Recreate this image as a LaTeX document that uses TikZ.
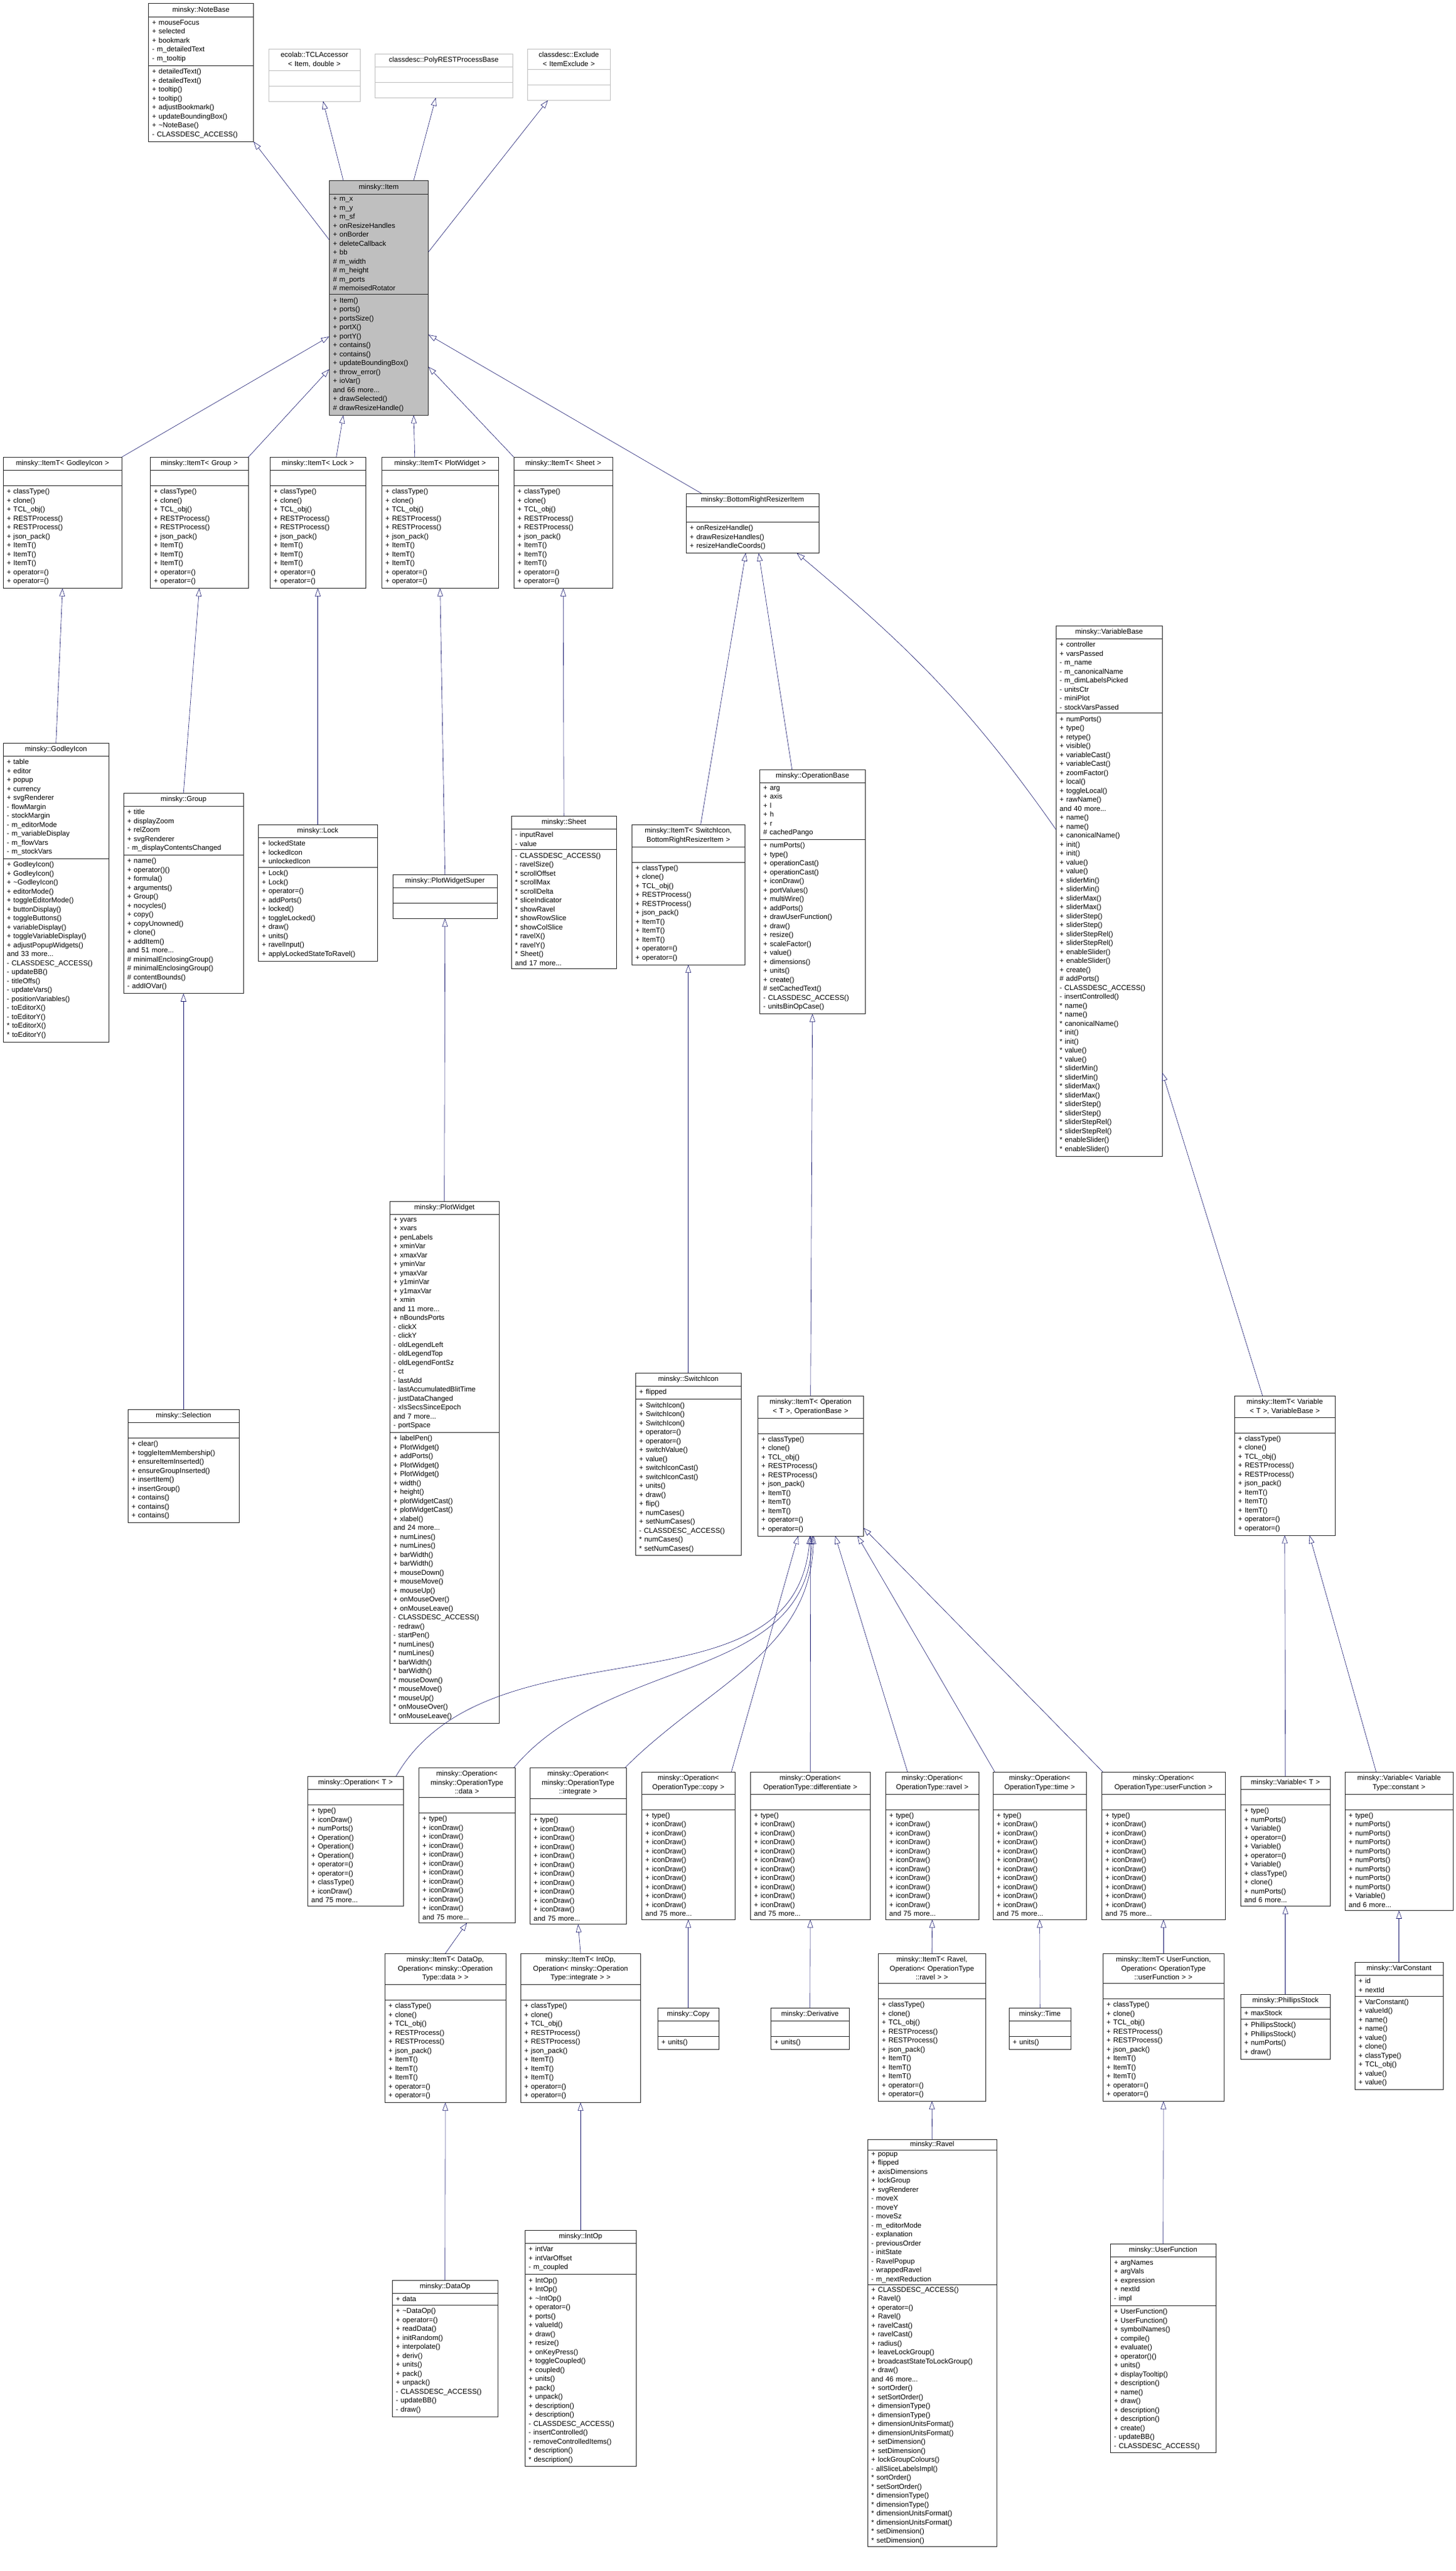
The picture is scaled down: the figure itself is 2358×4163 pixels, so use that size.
\documentclass[tikz,border=0pt]{standalone}
\usepackage{fontspec}
\setmainfont{Liberation Sans}
\usetikzlibrary{shapes.multipart,arrows.meta}
\definecolor{edgeblue}{HTML}{191970}
\newcommand{\ttl}[1]{\centering #1\par}
\newcommand{\itemTmethods}{+ classType()\\+ clone()\\+ TCL\_obj()\\+ RESTProcess()\\+ RESTProcess()\\+ json\_pack()\\+ ItemT()\\+ ItemT()\\+ ItemT()\\+ operator=()\\+ operator=()}
\newcommand{\iconDraws}{+ type()\\+ iconDraw()\\+ iconDraw()\\+ iconDraw()\\+ iconDraw()\\+ iconDraw()\\+ iconDraw()\\+ iconDraw()\\+ iconDraw()\\+ iconDraw()\\+ iconDraw()\\and 75 more...}

\begin{document}
\begin{tikzpicture}[x=1pt, y=-1pt,
		cls/.style={rectangle split, rectangle split parts=3, draw=black!85, fill=white,
			anchor=north west, align=left, inner xsep=6pt, inner ysep=5pt,
			font=\fontsize{11.5}{14.5}\selectfont},
		extcls/.style={cls, draw=black!25},
		inh/.style={draw=edgeblue, semithick, -{Triangle[open, length=13pt, width=9pt]}}]
		\useasboundingbox (0,0) rectangle (2358,4163);

		% top row
		\node[cls, thick, text width=158pt] (notebase) at (240,5) {\ttl{minsky::NoteBase}
			\nodepart{second}+ mouseFocus\\+ selected\\+ bookmark\\- m\_detailedText\\- m\_tooltip
			\nodepart{third}+ detailedText()\\+ detailedText()\\+ tooltip()\\+ tooltip()\\+ adjustBookmark()\\+ updateBoundingBox()\\+ \textasciitilde NoteBase()\\- CLASSDESC\_ACCESS()};
		\node[extcls, text width=136pt] (tclacc) at (435,79) {\ttl{ecolab::TCLAccessor\\< Item, double >}
			\nodepart{second}\strut \nodepart{third}\strut};
		\node[extcls, text width=211pt] (polyrest) at (607,87) {\ttl{classdesc::PolyRESTProcessBase}
			\nodepart{second}\strut \nodepart{third}\strut};
		\node[extcls, text width=122pt] (exclude) at (854,79) {\ttl{classdesc::Exclude\\< ItemExclude >}
			\nodepart{second}\strut \nodepart{third}\strut};
		\node[cls, thick, fill=black!25, text width=148pt] (item) at (533,292) {\ttl{minsky::Item}
			\nodepart{second}+ m\_x\\+ m\_y\\+ m\_sf\\+ onResizeHandles\\+ onBorder\\+ deleteCallback\\+ bb\\\# m\_width\\\# m\_height\\\# m\_ports\\\# memoisedRotator
			\nodepart{third}+ Item()\\+ ports()\\+ portsSize()\\+ portX()\\+ portY()\\+ contains()\\+ contains()\\+ updateBoundingBox()\\+ throw\_error()\\+ ioVar()\\and 66 more...\\+ drawSelected()\\\# drawResizeHandle()};

		% ItemT row
		\node[cls, text width=180pt] (itemTgodley) at (5,740) {\ttl{minsky::ItemT< GodleyIcon >}
			\nodepart{second}\strut \nodepart{third}\itemTmethods};
		\node[cls, text width=147pt] (itemTgroup) at (243,740) {\ttl{minsky::ItemT< Group >}
			\nodepart{second}\strut \nodepart{third}\itemTmethods};
		\node[cls, text width=143pt] (itemTlock) at (437,740) {\ttl{minsky::ItemT< Lock >}
			\nodepart{second}\strut \nodepart{third}\itemTmethods};
		\node[cls, text width=177pt] (itemTplot) at (618,740) {\ttl{minsky::ItemT< PlotWidget >}
			\nodepart{second}\strut \nodepart{third}\itemTmethods};
		\node[cls, text width=148pt] (itemTsheet) at (832,740) {\ttl{minsky::ItemT< Sheet >}
			\nodepart{second}\strut \nodepart{third}\itemTmethods};
		\node[cls, text width=203pt] (brr) at (1111,799) {\ttl{minsky::BottomRightResizerItem}
			\nodepart{second}\strut \nodepart{third}+ onResizeHandle()\\+ drawResizeHandles()\\+ resizeHandleCoords()};

		% concrete items
		\node[cls, text width=159pt] (godley) at (5,1203) {\ttl{minsky::GodleyIcon}
			\nodepart{second}+ table\\+ editor\\+ popup\\+ currency\\+ svgRenderer\\- flowMargin\\- stockMargin\\- m\_editorMode\\- m\_variableDisplay\\- m\_flowVars\\- m\_stockVars
			\nodepart{third}+ GodleyIcon()\\+ GodleyIcon()\\+ \textasciitilde GodleyIcon()\\+ editorMode()\\+ toggleEditorMode()\\+ buttonDisplay()\\+ toggleButtons()\\+ variableDisplay()\\+ toggleVariableDisplay()\\+ adjustPopupWidgets()\\and 33 more...\\- CLASSDESC\_ACCESS()\\- updateBB()\\- titleOffs()\\- updateVars()\\- positionVariables()\\- toEditorX()\\- toEditorY()\\{*} toEditorX()\\{*} toEditorY()};
		\node[cls, text width=182pt] (group) at (200,1284) {\ttl{minsky::Group}
			\nodepart{second}+ title\\+ displayZoom\\+ relZoom\\+ svgRenderer\\- m\_displayContentsChanged
			\nodepart{third}+ name()\\+ operator()()\\+ formula()\\+ arguments()\\+ Group()\\+ nocycles()\\+ copy()\\+ copyUnowned()\\+ clone()\\+ addItem()\\and 51 more...\\\# minimalEnclosingGroup()\\\# minimalEnclosingGroup()\\\# contentBounds()\\- addIOVar()};
		\node[cls, text width=181pt] (lock) at (418,1335) {\ttl{minsky::Lock}
			\nodepart{second}+ lockedState\\+ lockedIcon\\+ unlockedIcon
			\nodepart{third}+ Lock()\\+ Lock()\\+ operator=()\\+ addPorts()\\+ locked()\\+ toggleLocked()\\+ draw()\\+ units()\\+ ravelInput()\\+ applyLockedStateToRavel()};
		\node[cls, text width=157pt] (pwsuper) at (636,1416) {\ttl{minsky::PlotWidgetSuper}
			\nodepart{second}\strut \nodepart{third}\strut};
		\node[cls, text width=158pt] (sheet) at (828,1321) {\ttl{minsky::Sheet}
			\nodepart{second}- inputRavel\\- value
			\nodepart{third}- CLASSDESC\_ACCESS()\\- ravelSize()\\{*} scrollOffset\\{*} scrollMax\\{*} scrollDelta\\{*} sliceIndicator\\{*} showRavel\\{*} showRowSlice\\{*} showColSlice\\{*} ravelX()\\{*} ravelY()\\{*} Sheet()\\and 17 more...};
		\node[cls, text width=171pt] (itemTswitch) at (1023,1335) {\ttl{minsky::ItemT< SwitchIcon,\\BottomRightResizerItem >}
			\nodepart{second}\strut \nodepart{third}\itemTmethods};
		\node[cls, text width=159pt] (opbase) at (1230,1246) {\ttl{minsky::OperationBase}
			\nodepart{second}+ arg\\+ axis\\+ l\\+ h\\+ r\\\# cachedPango
			\nodepart{third}+ numPorts()\\+ type()\\+ operationCast()\\+ operationCast()\\+ iconDraw()\\+ portValues()\\+ multiWire()\\+ addPorts()\\+ drawUserFunction()\\+ draw()\\+ resize()\\+ scaleFactor()\\+ value()\\+ dimensions()\\+ units()\\+ create()\\\# setCachedText()\\- CLASSDESC\_ACCESS()\\- unitsBinOpCase()};
		\node[cls, text width=160pt] (varbase) at (1710,1013) {\ttl{minsky::VariableBase}
			\nodepart{second}+ controller\\+ varsPassed\\- m\_name\\- m\_canonicalName\\- m\_dimLabelsPicked\\- unitsCtr\\- miniPlot\\- stockVarsPassed
			\nodepart{third}+ numPorts()\\+ type()\\+ retype()\\+ visible()\\+ variableCast()\\+ variableCast()\\+ zoomFactor()\\+ local()\\+ toggleLocal()\\+ rawName()\\and 40 more...\\+ name()\\+ name()\\+ canonicalName()\\+ init()\\+ init()\\+ value()\\+ value()\\+ sliderMin()\\+ sliderMin()\\+ sliderMax()\\+ sliderMax()\\+ sliderStep()\\+ sliderStep()\\+ sliderStepRel()\\+ sliderStepRel()\\+ enableSlider()\\+ enableSlider()\\+ create()\\\# addPorts()\\- CLASSDESC\_ACCESS()\\- insertControlled()\\{*} name()\\{*} name()\\{*} canonicalName()\\{*} init()\\{*} init()\\{*} value()\\{*} value()\\{*} sliderMin()\\{*} sliderMin()\\{*} sliderMax()\\{*} sliderMax()\\{*} sliderStep()\\{*} sliderStep()\\{*} sliderStepRel()\\{*} sliderStepRel()\\{*} enableSlider()\\{*} enableSlider()};

		% middle
		\node[cls, text width=168pt] (selection) at (207,2282) {\ttl{minsky::Selection}
			\nodepart{second}\strut
			\nodepart{third}+ clear()\\+ toggleItemMembership()\\+ ensureItemInserted()\\+ ensureGroupInserted()\\+ insertItem()\\+ insertGroup()\\+ contains()\\+ contains()\\+ contains()};
		\node[cls, text width=165pt] (plotwidget) at (631,1945) {\ttl{minsky::PlotWidget}
			\nodepart{second}+ yvars\\+ xvars\\+ penLabels\\+ xminVar\\+ xmaxVar\\+ yminVar\\+ ymaxVar\\+ y1minVar\\+ y1maxVar\\+ xmin\\and 11 more...\\+ nBoundsPorts\\- clickX\\- clickY\\- oldLegendLeft\\- oldLegendTop\\- oldLegendFontSz\\- ct\\- lastAdd\\- lastAccumulatedBlitTime\\- justDataChanged\\- xIsSecsSinceEpoch\\and 7 more...\\- portSpace
			\nodepart{third}+ labelPen()\\+ PlotWidget()\\+ addPorts()\\+ PlotWidget()\\+ PlotWidget()\\+ width()\\+ height()\\+ plotWidgetCast()\\+ plotWidgetCast()\\+ xlabel()\\and 24 more...\\+ numLines()\\+ numLines()\\+ barWidth()\\+ barWidth()\\+ mouseDown()\\+ mouseMove()\\+ mouseUp()\\+ onMouseOver()\\+ onMouseLeave()\\- CLASSDESC\_ACCESS()\\- redraw()\\- startPen()\\{*} numLines()\\{*} numLines()\\{*} barWidth()\\{*} barWidth()\\{*} mouseDown()\\{*} mouseMove()\\{*} mouseUp()\\{*} onMouseOver()\\{*} onMouseLeave()};
		\node[cls, text width=159pt] (switchicon) at (1029,2223) {\ttl{minsky::SwitchIcon}
			\nodepart{second}+ flipped
			\nodepart{third}+ SwitchIcon()\\+ SwitchIcon()\\+ SwitchIcon()\\+ operator=()\\+ operator=()\\+ switchValue()\\+ value()\\+ switchIconCast()\\+ switchIconCast()\\+ units()\\+ draw()\\+ flip()\\+ numCases()\\+ setNumCases()\\- CLASSDESC\_ACCESS()\\{*} numCases()\\{*} setNumCases()};
		\node[cls, text width=159pt] (itemTop) at (1227,2260) {\ttl{minsky::ItemT< Operation\\< T >, OperationBase >}
			\nodepart{second}\strut \nodepart{third}\itemTmethods};
		\node[cls, text width=151pt] (itemTvar) at (1999,2260) {\ttl{minsky::ItemT< Variable\\< T >, VariableBase >}
			\nodepart{second}\strut \nodepart{third}\itemTmethods};

		% operations
		\node[cls, text width=143pt] (opT) at (498,2876) {\ttl{minsky::Operation< T >}
			\nodepart{second}\strut
			\nodepart{third}+ type()\\+ iconDraw()\\+ numPorts()\\+ Operation()\\+ Operation()\\+ Operation()\\+ operator=()\\+ operator=()\\+ classType()\\+ iconDraw()\\and 75 more...};
		\node[cls, text width=144pt] (opdata) at (678,2862) {\ttl{minsky::Operation<\\minsky::OperationType\\::data >}
			\nodepart{second}\strut \nodepart{third}\iconDraws};
		\node[cls, text width=144pt] (opint) at (858,2862) {\ttl{minsky::Operation<\\minsky::OperationType\\::integrate >}
			\nodepart{second}\strut \nodepart{third}\iconDraws};
		\node[cls, text width=139pt] (opcopy) at (1039,2869) {\ttl{minsky::Operation<\\OperationType::copy >}
			\nodepart{second}\strut \nodepart{third}\iconDraws};
		\node[cls, text width=182pt] (opdiff) at (1215,2869) {\ttl{minsky::Operation<\\OperationType::differentiate >}
			\nodepart{second}\strut \nodepart{third}\iconDraws};
		\node[cls, text width=139pt] (opravel) at (1434,2869) {\ttl{minsky::Operation<\\OperationType::ravel >}
			\nodepart{second}\strut \nodepart{third}\iconDraws};
		\node[cls, text width=139pt] (optime) at (1608,2869) {\ttl{minsky::Operation<\\OperationType::time >}
			\nodepart{second}\strut \nodepart{third}\iconDraws};
		\node[cls, text width=188pt] (opuf) at (1784,2869) {\ttl{minsky::Operation<\\OperationType::userFunction >}
			\nodepart{second}\strut \nodepart{third}\iconDraws};
		\node[cls, text width=133pt] (varT) at (2009,2876) {\ttl{minsky::Variable< T >}
			\nodepart{second}\strut
			\nodepart{third}+ type()\\+ numPorts()\\+ Variable()\\+ operator=()\\+ Variable()\\+ operator=()\\+ Variable()\\+ classType()\\+ clone()\\+ numPorts()\\and 6 more...};
		\node[cls, text width=163pt] (varconst) at (2178,2869) {\ttl{minsky::Variable< Variable\\Type::constant >}
			\nodepart{second}\strut
			\nodepart{third}+ type()\\+ numPorts()\\+ numPorts()\\+ numPorts()\\+ numPorts()\\+ numPorts()\\+ numPorts()\\+ numPorts()\\+ numPorts()\\+ Variable()\\and 6 more...};

		% third row
		\node[cls, text width=184pt] (itemTdata) at (623,3163) {\ttl{minsky::ItemT< DataOp,\\Operation< minsky::Operation\\Type::data > >}
			\nodepart{second}\strut \nodepart{third}\itemTmethods};
		\node[cls, text width=182pt] (itemTint) at (843,3163) {\ttl{minsky::ItemT< IntOp,\\Operation< minsky::Operation\\Type::integrate > >}
			\nodepart{second}\strut \nodepart{third}\itemTmethods};
		\node[cls, text width=87pt] (copy) at (1065,3251) {\ttl{minsky::Copy}
			\nodepart{second}\strut \nodepart{third}+ units()};
		\node[cls, text width=115pt] (deriv) at (1248,3251) {\ttl{minsky::Derivative}
			\nodepart{second}\strut \nodepart{third}+ units()};
		\node[cls, text width=162pt] (itemTravel) at (1422,3163) {\ttl{minsky::ItemT< Ravel,\\Operation< OperationType\\::ravel > >}
			\nodepart{second}\strut \nodepart{third}\itemTmethods};
		\node[cls, text width=88pt] (time) at (1634,3251) {\ttl{minsky::Time}
			\nodepart{second}\strut \nodepart{third}+ units()};
		\node[cls, text width=184pt] (itemTuf) at (1786,3163) {\ttl{minsky::ItemT< UserFunction,\\Operation< OperationType\\::userFunction > >}
			\nodepart{second}\strut \nodepart{third}\itemTmethods};
		\node[cls, text width=133pt] (phillips) at (2009,3229) {\ttl{minsky::PhillipsStock}
			\nodepart{second}+ maxStock
			\nodepart{third}+ PhillipsStock()\\+ PhillipsStock()\\+ numPorts()\\+ draw()};
		\node[cls, text width=131pt] (varconstant) at (2194,3177) {\ttl{minsky::VarConstant}
			\nodepart{second}+ id\\+ nextId
			\nodepart{third}+ VarConstant()\\+ valueId()\\+ name()\\+ name()\\+ value()\\+ clone()\\+ classType()\\+ TCL\_obj()\\+ value()\\+ value()};

		% bottom row
		\node[cls, text width=159pt] (dataop) at (635,3692) {\ttl{minsky::DataOp}
			\nodepart{second}+ data
			\nodepart{third}+ \textasciitilde DataOp()\\+ operator=()\\+ readData()\\+ initRandom()\\+ interpolate()\\+ deriv()\\+ units()\\+ pack()\\+ unpack()\\- CLASSDESC\_ACCESS()\\- updateBB()\\- draw()};
		\node[cls, text width=168pt] (intop) at (850,3611) {\ttl{minsky::IntOp}
			\nodepart{second}+ intVar\\+ intVarOffset\\- m\_coupled
			\nodepart{third}+ IntOp()\\+ IntOp()\\+ \textasciitilde IntOp()\\+ operator=()\\+ ports()\\+ valueId()\\+ draw()\\+ resize()\\+ onKeyPress()\\+ toggleCoupled()\\+ coupled()\\+ units()\\+ pack()\\+ unpack()\\+ description()\\+ description()\\- CLASSDESC\_ACCESS()\\- insertControlled()\\- removeControlledItems()\\{*} description()\\{*} description()};
		\node[cls, text width=197pt, inner ysep=3pt] (ravel) at (1405,3464) {\ttl{minsky::Ravel}
			\nodepart{second}+ popup\\+ flipped\\+ axisDimensions\\+ lockGroup\\+ svgRenderer\\- moveX\\- moveY\\- moveSz\\- m\_editorMode\\- explanation\\- previousOrder\\- initState\\- RavelPopup\\- wrappedRavel\\- m\_nextReduction
			\nodepart{third}+ CLASSDESC\_ACCESS()\\+ Ravel()\\+ operator=()\\+ Ravel()\\+ ravelCast()\\+ ravelCast()\\+ radius()\\+ leaveLockGroup()\\+ broadcastStateToLockGroup()\\+ draw()\\and 46 more...\\+ sortOrder()\\+ setSortOrder()\\+ dimensionType()\\+ dimensionType()\\+ dimensionUnitsFormat()\\+ dimensionUnitsFormat()\\+ setDimension()\\+ setDimension()\\+ lockGroupColours()\\- allSliceLabelsImpl()\\{*} sortOrder()\\{*} setSortOrder()\\{*} dimensionType()\\{*} dimensionType()\\{*} dimensionUnitsFormat()\\{*} dimensionUnitsFormat()\\{*} setDimension()\\{*} setDimension()};
		\node[cls, text width=159pt] (userfunc) at (1798,3633) {\ttl{minsky::UserFunction}
			\nodepart{second}+ argNames\\+ argVals\\+ expression\\+ nextId\\- impl
			\nodepart{third}+ UserFunction()\\+ UserFunction()\\+ symbolNames()\\+ compile()\\+ evaluate()\\+ operator()()\\+ units()\\+ displayTooltip()\\+ description()\\+ name()\\+ draw()\\+ description()\\+ description()\\+ create()\\- updateBB()\\- CLASSDESC\_ACCESS()};

		% inheritance
		\draw[inh] ([yshift=-96pt]item.north west) -- (notebase.south east);
		\draw[inh] ([xshift=23pt]item.north west) -- ([xshift=14pt]tclacc.south);
		\draw[inh] ([xshift=137pt]item.north west) -- ([xshift=-13pt]polyrest.south);
		\draw[inh] ([yshift=-116pt]item.north east) -- ([xshift=-34pt]exclude.south);
		\draw[inh] (itemTgodley.north east) -- ([yshift=-253pt]item.north west);
		\draw[inh] (itemTgroup.north east) -- ([yshift=-306pt]item.north west);
		\draw[inh] ([xshift=30pt]itemTlock.north) -- ([xshift=23pt]item.south west);
		\draw[inh] ([xshift=-41pt]itemTplot.north) -- ([xshift=137pt]item.south west);
		\draw[inh] (itemTsheet.north west) -- ([yshift=-302pt]item.north east);
		\draw[inh] ([xshift=25pt]brr.north west) -- ([yshift=-250pt]item.north east);
		\draw[inh] (godley.north) -- (itemTgodley.south);
		\draw[inh] (group.north) -- (itemTgroup.south);
		\draw[inh] (lock.north) -- (itemTlock.south);
		\draw[inh] (pwsuper.north) -- (itemTplot.south);
		\draw[inh] (sheet.north) -- (itemTsheet.south);
		\draw[inh] (selection.north) -- (group.south);
		\draw[inh] (plotwidget.north) -- (pwsuper.south);
		\draw[inh] ([xshift=20pt]itemTswitch.north) -- ([xshift=-11pt]brr.south);
		\draw[inh] ([xshift=-33pt]opbase.north) -- ([xshift=10pt]brr.south);
		\draw[inh] ([yshift=-330pt]varbase.north west) to[out=125, in=-40] ([xshift=-36pt]brr.south east);
		\draw[inh] (switchicon.north) -- (itemTswitch.south);
		\draw[inh] (itemTop.north) -- (opbase.south);
		\draw[inh] ([xshift=-36pt]itemTvar.north) -- ([yshift=-724pt]varbase.north east);
		\draw[inh] ([xshift=-12pt]opT.north east) to[out=60, in=-95] ([xshift=-1pt]itemTop.south);
		\draw[inh] ([xshift=-2pt]opdata.north east) to[out=50, in=-93] ([xshift=3pt]itemTop.south);
		\draw[inh] ([xshift=-2pt]opint.north east) to[out=45, in=-92] ([xshift=5pt]itemTop.south);
		\draw[inh] ([xshift=-6pt]opcopy.north east) -- ([xshift=-20pt]itemTop.south);
		\draw[inh] (opdiff.north) -- (itemTop.south);
		\draw[inh] ([xshift=-40pt]opravel.north) -- ([xshift=40pt]itemTop.south);
		\draw[inh] ([xshift=3pt]optime.north west) -- ([xshift=76pt]itemTop.south);
		\draw[inh] ([xshift=2pt]opuf.north west) -- ([yshift=-214pt]itemTop.north east);
		\draw[inh] (varT.north) -- (itemTvar.south);
		\draw[inh] ([xshift=-37pt]varconst.north) -- ([xshift=40pt]itemTvar.south);
		\draw[inh] (itemTdata.north) -- (opdata.south);
		\draw[inh] (itemTint.north) -- (opint.south);
		\draw[inh] (copy.north) -- (opcopy.south);
		\draw[inh] (deriv.north) -- (opdiff.south);
		\draw[inh] (itemTravel.north) -- (opravel.south);
		\draw[inh] (time.north) -- (optime.south);
		\draw[inh] (itemTuf.north) -- (opuf.south);
		\draw[inh] (phillips.north) -- (varT.south);
		\draw[inh] (varconstant.north) -- (varconst.south);
		\draw[inh] (dataop.north) -- (itemTdata.south);
		\draw[inh] (intop.north) -- (itemTint.south);
		\draw[inh] (ravel.north) -- (itemTravel.south);
		\draw[inh] (userfunc.north) -- (itemTuf.south);
\end{tikzpicture}
\end{document}
